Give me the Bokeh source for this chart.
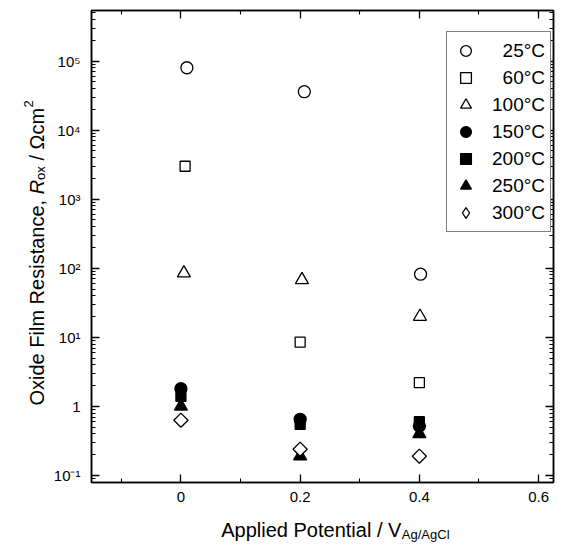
import math
from bokeh.plotting import figure
from bokeh.layouts import row, column
from bokeh.models import (Range1d, FixedTicker, CustomJSTickFormatter, LinearAxis, LogAxis,
                          Legend, LegendItem)
from bokeh.core.properties import value
from bokeh.embed import file_html
from bokeh.resources import INLINE

FONT = "Liberation Sans"

# ---------------- data ----------------
series_labels = ["\u200725°C", "\u200760°C", "100°C", "150°C", "200°C", "250°C", "300°C"]
x_25C = [0.010, 0.207, 0.402]
y_25C = [8.0e4, 3.6e4, 82]
x_60C = [0.007, 0.200, 0.400]
y_60C = [3.0e3, 8.5, 2.2]
x_100C = [0.005, 0.203, 0.401]
y_100C = [85, 68, 20]
x_150C = [0.0, 0.2, 0.4]
y_150C = [1.8, 0.65, 0.52]
x_200C = [0.0, 0.2, 0.4]
y_200C = [1.4, 0.55, 0.60]
x_250C = [0.0, 0.2, 0.4]
y_250C = [1.0, 0.19, 0.40]
x_300C = [0.0, 0.2, 0.4]
y_300C = [0.63, 0.24, 0.19]

x_ticks = [0.0, 0.2, 0.4, 0.6]
x_minor_ticks = [-0.1, 0.1, 0.3, 0.5]
x_tick_labels = ["0", "0.2", "0.4", "0.6"]
y_ticks = [1e-1, 1e0, 1e1, 1e2, 1e3, 1e4, 1e5]
y_tick_labels = ["10\u207b\u00b9", "1", "10\u00b9", "10\u00b2", "10\u00b3", "10\u2074", "10\u2075"]
y_minor_ticks = [m * 10.0 ** e for e in range(-2, 6) for m in range(2, 10)]

x_title = "Applied Potential / V"
x_title_sub = "Ag/AgCl"
y_title_parts = ["Oxide Film Resistance,", "R", "ox", "/ \u03a9cm", "2"]

# ---------------- main figure ----------------
p = figure(width=505, height=512,
           x_range=Range1d(-0.15, 0.625), y_range=Range1d(0.079, 5.4e5),
           y_axis_type="log", output_backend="svg", toolbar_location=None,
           min_border_left=40, min_border_right=2, min_border_top=10, min_border_bottom=30)
p.xgrid.visible = False
p.ygrid.visible = False
p.outline_line_color = "black"
p.outline_line_width = 1.5
p.background_fill_color = "white"
p.border_fill_color = "white"

xfmt = CustomJSTickFormatter(args=dict(vals=x_ticks, labs=x_tick_labels), code="""
const i = vals.findIndex(v => Math.abs(v - tick) < 1e-9);
return i >= 0 ? labs[i] : "";
""")
yfmt = CustomJSTickFormatter(args=dict(vals=y_ticks, labs=y_tick_labels), code="""
const i = vals.findIndex(v => Math.abs(Math.log10(v) - Math.log10(tick)) < 1e-6);
return i >= 0 ? labs[i] : "";
""")
blank = CustomJSTickFormatter(code="return '';")

def style_axis(ax):
    ax.axis_line_width = 1.5
    ax.axis_line_color = "black"
    ax.major_tick_in = 8
    ax.major_tick_out = 0
    ax.minor_tick_in = 4
    ax.minor_tick_out = 0
    ax.major_tick_line_width = 1.3
    ax.minor_tick_line_width = 1.1
    ax.major_tick_line_color = "black"
    ax.minor_tick_line_color = "black"
    ax.major_label_text_font = FONT
    ax.major_label_text_font_size = "15px"
    ax.major_label_text_color = "black"

xa = p.xaxis[0]
xa.ticker = FixedTicker(ticks=x_ticks, minor_ticks=x_minor_ticks)
xa.formatter = xfmt
style_axis(xa)
xa.major_label_standoff = 9

ya = p.yaxis[0]
ya.ticker = FixedTicker(ticks=y_ticks, minor_ticks=y_minor_ticks)
ya.formatter = yfmt
style_axis(ya)
ya.major_label_standoff = 11

top = LinearAxis(ticker=FixedTicker(ticks=x_ticks, minor_ticks=x_minor_ticks), formatter=blank)
style_axis(top)
top.major_label_standoff = 0
p.add_layout(top, "above")
right = LogAxis(ticker=FixedTicker(ticks=y_ticks, minor_ticks=y_minor_ticks), formatter=blank)
style_axis(right)
right.major_label_standoff = 0
p.add_layout(right, "right")

# ---------------- markers ----------------
lw = 1.3
r1 = p.scatter(x_25C, y_25C, marker="circle", size=12, fill_color="white", line_color="black", line_width=lw)
r2 = p.scatter(x_60C, y_60C, marker="square", size=10, fill_color="white", line_color="black", line_width=lw)
r3 = p.scatter(x_100C, y_100C, marker="triangle", size=13, fill_color="white", line_color="black", line_width=lw)
r4 = p.scatter(x_150C, y_150C, marker="circle", size=12, fill_color="black", line_color="black", line_width=lw)
r5 = p.scatter(x_200C, y_200C, marker="square", size=10, fill_color="black", line_color="black", line_width=lw)
r6 = p.scatter(x_250C, y_250C, marker="triangle", size=13, fill_color="black", line_color="black", line_width=lw)
# diamond key for the legend (sits inside the rotated-square diamonds drawn on top)
r7_key = p.scatter(x_300C, y_300C, marker="diamond", size=12, fill_color="white", line_color="black", line_width=lw)
r7 = p.scatter(x_300C, y_300C, marker="square", angle=math.pi / 4, size=10, fill_color="white",
               line_color="black", line_width=lw)

key_renderers = [r1, r2, r3, r4, r5, r6, r7_key]
legend = Legend(items=[LegendItem(label=lab, renderers=[r]) for lab, r in zip(series_labels, key_renderers)],
                location=(355, 250))
legend.margin = 0
legend.padding = 5
legend.spacing = 0
legend.glyph_width = 27
legend.glyph_height = 27
legend.label_height = 27
legend.label_standoff = 13
legend.label_text_font = FONT
legend.label_text_font_size = "19px"
legend.label_text_color = "black"
legend.border_line_color = "black"
legend.border_line_width = 1.2
legend.background_fill_color = "white"
legend.background_fill_alpha = 1.0
p.add_layout(legend, "center")

# ---------------- title strips ----------------
def strip(w, h, xr, yr):
    f = figure(width=w, height=h, x_range=Range1d(*xr), y_range=Range1d(*yr),
               output_backend="svg", toolbar_location=None, min_border=0,
               x_axis_location=None, y_axis_location=None)
    f.xgrid.visible = False
    f.ygrid.visible = False
    f.outline_line_color = None
    f.background_fill_color = "white"
    f.border_fill_color = "white"
    return f

# x title strip: its frame lines up with the main frame (canvas x 90..553)
xf = strip(505, 31, (90, 553), (0, 31))
xf.text(x=[220], y=[14], text=[x_title], text_font=value(FONT), text_font_size="20px",
        text_color="black", text_align="left", text_baseline="alphabetic")
xf.text(x=[401], y=[9], text=[x_title_sub], text_font=value(FONT), text_font_size="13px",
        text_color="black", text_align="left", text_baseline="alphabetic")

# y title strip (rotated text, reading upward); y measured up from the canvas bottom
yf = strip(50, 543, (0, 50), (0, 543))
A = math.pi / 2
y_xs = [36, 36, 40, 36, 28]
y_ys = [138, 349.2, 363.6, 382.9, 436.0]
y_sizes = ["20px", "20px", "13px", "20px", "13px"]
y_styles = ["normal", "italic", "normal", "normal", "normal"]
for t, xx, yy, sz, st in zip(y_title_parts, y_xs, y_ys, y_sizes, y_styles):
    yf.text(x=[xx], y=[yy], text=[t], angle=A, text_font=value(FONT), text_font_size=sz,
            text_font_style=st, text_color="black", text_align="left", text_baseline="alphabetic")

layout = row(yf, column(p, xf))
open("out.html", "w").write(file_html(layout, INLINE))
